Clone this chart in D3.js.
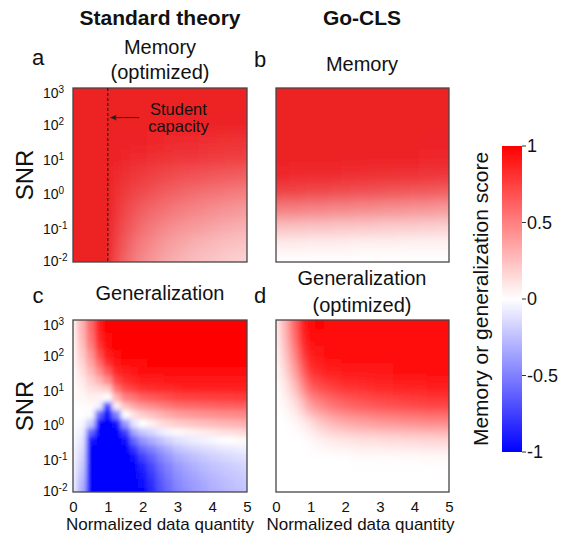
<!DOCTYPE html>
<html>
<head>
<meta charset="utf-8">
<script src="https://cdn.jsdelivr.net/npm/d3@7"></script>
<style>
  body { margin: 0; background: #fff; }
  svg text { font-family: "Liberation Sans", Arial, Helvetica, sans-serif; fill: #111; }
</style>
</head>
<body>
<script>
//// Data ///////////////////////////////////////////
// grids: normalized data quantity (columns) x log10 SNR (rows, top to bottom)
const DATA_QUANTITY = [0, 0.25, 0.5, 0.75, 1, 1.25, 1.5, 1.75, 2, 2.25, 2.5,
  2.75, 3, 3.25, 3.5, 3.75, 4, 4.25, 4.5, 4.75, 5]
const LOG_SNR = [3, 2.5, 2, 1.5, 1, 0.5, 0, -0.5, -1, -1.5, -2]
const LOG_SNR_FINE = [3, 2.75, 2.5, 2.25, 2, 1.75, 1.5, 1.25, 1, 0.75, 0.5,
  0.25, 0, -0.25, -0.5, -0.75, -1, -1.25, -1.5, -1.75, -2]

const X_TICKS = [0, 1, 2, 3, 4, 5]
const Y_TICK_EXPONENTS = [3, 2, 1, 0, -1, -2]
const COLORBAR_TICKS = [1, 0.5, 0, -0.5, -1]
const STUDENT_CAPACITY = 1

// a: standard theory, memory (optimized) -- rows of LOG_SNR
const memoryStandard = [
  [1,1,1,1,1,1,1,1,1,1,1,1,1,1,1,1,1,1,1,1,1],
  [1,1,1,1,1,1,1,1,1,1,1,1,1,1,1,1,1,1,1,1,1],
  [1,1,1,1,1,1,1,1,1,1,1,1,1,.99,.99,.99,.99,.98,.98,.98,.98],
  [1,1,1,1,1,.99,.99,.98,.98,.97,.97,.96,.96,.95,.95,.94,.94,.93,.93,.92,.92],
  [1,1,1,1,1,.98,.97,.96,.95,.94,.93,.92,.91,.9,.9,.89,.88,.88,.87,.87,.86],
  [1,1,1,1,1,.96,.93,.9,.88,.86,.84,.82,.8,.79,.78,.77,.76,.75,.74,.73,.72],
  [1,1,1,1,1,.93,.88,.84,.81,.78,.75,.72,.7,.68,.66,.64,.63,.62,.6,.59,.58],
  [1,1,1,1,1,.9,.83,.77,.72,.68,.65,.62,.59,.57,.55,.53,.51,.49,.48,.46,.45],
  [1,1,1,1,1,.87,.78,.71,.65,.6,.56,.52,.49,.47,.45,.43,.41,.39,.37,.36,.35],
  [1,1,1,1,1,.84,.73,.64,.58,.53,.48,.44,.41,.38,.35,.33,.31,.29,.28,.27,.26],
  [1,1,1,1,1,.8,.68,.6,.53,.47,.42,.38,.35,.32,.3,.28,.26,.24,.22,.21,.2]
]

// b: Go-CLS, memory -- rows of LOG_SNR
const memoryGoCLS = [
  [1,1,1,1,1,1,1,1,1,1,1,1,1,1,1,1,1,1,1,1,1],
  [1,1,1,1,1,1,1,1,1,1,1,1,1,1,1,1,1,1,1,1,1],
  [1,1,1,1,1,1,1,1,1,1,1,1,1,1,1,1,1,1,1,1,1],
  [1,1,1,1,1,1,1,1,1,1,1,1,1,1,1,1,1,.99,.99,.99,.99],
  [1,1,1,1,1,1,1,.99,.99,.99,.99,.99,.98,.98,.98,.98,.98,.97,.97,.97,.97],
  [.97,.97,.96,.96,.96,.95,.95,.95,.94,.94,.94,.93,.93,.93,.92,.92,.92,.91,.91,.9,.9],
  [.85,.84,.84,.83,.82,.82,.81,.8,.8,.79,.78,.78,.77,.76,.76,.75,.74,.74,.73,.72,.72],
  [.58,.57,.57,.56,.55,.55,.54,.53,.53,.52,.51,.51,.5,.49,.49,.48,.47,.47,.46,.45,.45],
  [.28,.28,.27,.27,.26,.26,.26,.25,.25,.24,.24,.24,.23,.23,.22,.22,.22,.21,.21,.2,.2],
  [.08,.08,.08,.08,.07,.07,.07,.07,.07,.06,.06,.06,.06,.06,.06,.05,.05,.05,.05,.05,.05],
  [0,0,0,0,0,0,0,0,0,0,0,0,0,0,0,0,0,0,0,0,0]
]

// c: standard theory, generalization -- one column per DATA_QUANTITY, over LOG_SNR_FINE
const generalizationStandardCols = [
  [.05,.05,.04,.04,.03,.03,.02,.02,.01,.01,0,0,0,-.01,-.02,-.03,-.04,-.05,-.06,-.07,-.08],
  [.3,.29,.27,.24,.2,.16,.12,.08,.05,.03,.01,0,-.03,-.06,-.1,-.13,-.16,-.2,-.24,-.28,-.32],
  [.6,.58,.55,.5,.42,.35,.27,.19,.12,.06,.02,-.02,-.2,-.6,-.92,-1,-1,-1,-1,-1,-1],
  [.9,.88,.85,.79,.7,.58,.45,.3,.15,.05,-.05,-.6,-1,-1,-1,-1,-1,-1,-1,-1,-1],
  [1,1,.97,.94,.9,.8,.65,.45,.2,0,-.8,-1,-1,-1,-1,-1,-1,-1,-1,-1,-1],
  [1,1,1,.99,.97,.93,.85,.72,.55,.3,.05,-.5,-.95,-1,-1,-1,-1,-1,-1,-1,-1],
  [1,1,1,1,.98,.95,.9,.82,.7,.5,.25,0,-.4,-.75,-.95,-1,-1,-1,-1,-1,-1],
  [1,1,1,1,.98,.96,.92,.85,.75,.55,.35,.12,-.1,-.35,-.6,-.8,-.95,-1,-1,-1,-1],
  [1,1,1,1,.99,.97,.94,.88,.8,.62,.42,.2,0,-.22,-.42,-.6,-.75,-.86,-.93,-.97,-1],
  [1,1,1,1,1,.98,.95,.89,.82,.65,.46,.25,.06,-.15,-.33,-.5,-.62,-.72,-.78,-.82,-.85],
  [1,1,1,1,1,.98,.95,.9,.83,.68,.5,.3,.12,-.08,-.25,-.4,-.5,-.58,-.63,-.67,-.7],
  [1,1,1,1,1,.98,.96,.91,.84,.7,.53,.34,.16,-.03,-.18,-.32,-.41,-.49,-.53,-.57,-.6],
  [1,1,1,1,1,.98,.96,.92,.85,.73,.57,.38,.2,.02,-.12,-.24,-.33,-.4,-.44,-.47,-.5],
  [1,1,1,1,1,.98,.96,.92,.86,.74,.58,.4,.22,.04,-.1,-.2,-.29,-.35,-.39,-.42,-.45],
  [1,1,1,1,1,.98,.96,.92,.86,.74,.59,.41,.24,.06,-.07,-.17,-.25,-.31,-.35,-.38,-.4],
  [1,1,1,1,1,.98,.96,.92,.86,.75,.6,.43,.26,.08,-.05,-.14,-.22,-.27,-.31,-.34,-.36],
  [1,1,1,1,1,.98,.96,.92,.86,.75,.61,.44,.27,.1,-.03,-.12,-.19,-.24,-.28,-.3,-.32],
  [1,1,1,1,1,.98,.96,.92,.87,.76,.62,.45,.29,.12,-.01,-.1,-.17,-.22,-.25,-.28,-.3],
  [1,1,1,1,1,.98,.96,.92,.87,.76,.62,.46,.3,.13,0,-.09,-.15,-.2,-.23,-.25,-.27],
  [1,1,1,1,1,.98,.96,.92,.87,.77,.63,.47,.31,.15,.02,-.07,-.13,-.18,-.21,-.23,-.25],
  [1,1,1,1,1,.98,.96,.92,.87,.77,.63,.48,.32,.16,.03,-.06,-.12,-.16,-.19,-.21,-.23]
]

// d: Go-CLS, generalization (optimized) -- rows of LOG_SNR
const generalizationGoCLS = [
  [.08,.3,.6,.9,.97,.98,.97,.96,.96,.96,.95,.95,.95,.95,.95,.95,.95,.95,.95,.95,.95],
  [.06,.27,.55,.85,.95,.97,.97,.96,.96,.96,.95,.95,.95,.95,.95,.95,.95,.95,.95,.95,.95],
  [.04,.22,.45,.75,.9,.93,.94,.95,.95,.95,.95,.95,.95,.95,.95,.95,.95,.95,.95,.95,.95],
  [.02,.15,.35,.6,.8,.85,.88,.9,.92,.92,.92,.93,.93,.93,.94,.94,.94,.94,.94,.94,.94],
  [.01,.08,.22,.42,.62,.7,.74,.77,.8,.81,.82,.84,.85,.85,.86,.86,.87,.87,.88,.88,.88],
  [0,.03,.1,.22,.38,.46,.52,.56,.6,.62,.64,.66,.68,.69,.7,.71,.72,.73,.74,.74,.75],
  [0,0,.02,.06,.12,.2,.26,.3,.33,.35,.37,.38,.4,.41,.42,.43,.44,.45,.46,.46,.47],
  [0,0,0,0,.02,.05,.07,.09,.1,.11,.12,.12,.13,.14,.14,.15,.15,.16,.16,.17,.17],
  [0,0,0,0,0,0,0,0,0,.01,.01,.01,.01,.01,.01,.01,.01,.02,.02,.02,.02],
  [0,0,0,0,0,0,0,0,0,0,0,0,0,0,0,0,0,0,0,0,0],
  [0,0,0,0,0,0,0,0,0,0,0,0,0,0,0,0,0,0,0,0,0]
]

//// Layout ///////////////////////////////////////////
const WIDTH = 561
const HEIGHT = 533
const FRAME = "#454545"

const memColor = v => d3.interpolateRgb("#ffffff", "#ed2024")(v)
const divColor = d3.scaleLinear().domain([-1, 0, 1]).range(["#0000ff", "#ffffff", "#ff0000"])

const panels = [
  { id: "a", left: 73, top: 88, w: 174, h: 174, rows: LOG_SNR, grid: memoryStandard,
    color: memColor, blur: "3.5 6.5", xAxis: false },
  { id: "b", left: 276, top: 88, w: 173, h: 174, rows: LOG_SNR, grid: memoryGoCLS,
    color: memColor, blur: "3.5 6.5", xAxis: false },
  { id: "c", left: 73, top: 320, w: 174, h: 172, rows: LOG_SNR_FINE,
    grid: d3.transpose(generalizationStandardCols), color: divColor, blur: "2.6 2.6", xAxis: true },
  { id: "d", left: 276, top: 320, w: 173, h: 172, rows: LOG_SNR, grid: generalizationGoCLS,
    color: divColor, blur: "3.5 6.5", xAxis: true }
]

const svg = d3.select("body").append("svg")
  .attr("width", WIDTH)
  .attr("height", HEIGHT)

const defs = svg.append("defs")

defs.append("marker")
  .attr("id", "arrow")
  .attr("viewBox", "0 0 10 10")
  .attr("refX", 9).attr("refY", 5)
  .attr("markerUnits", "userSpaceOnUse")
  .attr("markerWidth", 9).attr("markerHeight", 7)
  .attr("orient", "auto")
  .append("path")
  .attr("d", "M0,1 L10,5 L0,9 L2.5,5 Z")
  .attr("fill", "#222")

function drawPanel(p) {
  const x = d3.scaleLinear().domain([0, 5]).range([p.left, p.left + p.w])
  const y = d3.scaleLog().domain([1e-2, 1e3]).range([p.top + p.h, p.top])
  const PAD = 20
  const nx = DATA_QUANTITY.length
  const ny = p.rows.length

  const xEdge = i => i === 0 ? x(DATA_QUANTITY[0]) - PAD
    : i === nx ? x(DATA_QUANTITY[nx - 1]) + PAD
    : (x(DATA_QUANTITY[i - 1]) + x(DATA_QUANTITY[i])) / 2
  const yEdge = j => j === 0 ? y(10 ** p.rows[0]) - PAD
    : j === ny ? y(10 ** p.rows[ny - 1]) + PAD
    : y(10 ** ((p.rows[j - 1] + p.rows[j]) / 2))

  const cells = []
  p.grid.forEach((row, j) => row.forEach((v, i) => cells.push({ i, j, v })))

  defs.append("filter")
    .attr("id", "smooth-" + p.id)
    .attr("filterUnits", "userSpaceOnUse")
    .attr("x", p.left - 30).attr("y", p.top - 30)
    .attr("width", p.w + 60).attr("height", p.h + 60)
    .append("feGaussianBlur")
    .attr("stdDeviation", p.blur)

  defs.append("clipPath").attr("id", "clip-" + p.id)
    .append("rect")
    .attr("x", p.left).attr("y", p.top).attr("width", p.w).attr("height", p.h)

  svg.append("g")
    .attr("clip-path", `url(#clip-${p.id})`)
    .append("g")
    .attr("filter", `url(#smooth-${p.id})`)
    .selectAll("rect")
    .data(cells)
    .join("rect")
    .attr("x", d => xEdge(d.i))
    .attr("y", d => yEdge(d.j))
    .attr("width", d => xEdge(d.i + 1) - xEdge(d.i) + 0.5)
    .attr("height", d => yEdge(d.j + 1) - yEdge(d.j) + 0.5)
    .attr("fill", d => p.color(d.v))
    .attr("shape-rendering", "crispEdges")

  // frame
  svg.append("rect")
    .attr("x", p.left).attr("y", p.top).attr("width", p.w).attr("height", p.h)
    .attr("fill", "none").attr("stroke", FRAME).attr("stroke-width", 1.3)

  // y tick labels (only the left column)
  if (p.left < 100) {
    const yt = svg.append("g").selectAll("text")
      .data(Y_TICK_EXPONENTS)
      .join("text")
      .attr("x", 43)
      .attr("y", e => Math.min(Math.max(y(10 ** e) + 7, p.top + 9.5), p.top + p.h + 3.5))
      .attr("font-size", 14)
    yt.append("tspan").text("10")
    yt.append("tspan").attr("dy", -5).attr("font-size", 10)
      .text(e => e < 0 ? "-" + Math.abs(e) : e)

    svg.append("text")
      .attr("transform", `translate(33,${p.top + p.h / 2}) rotate(-90)`)
      .attr("text-anchor", "middle")
      .attr("font-size", 24)
      .text("SNR")
  }

  if (p.xAxis) {
    const ax = svg.append("g")
      .attr("transform", `translate(0,${p.top + p.h})`)
      .call(d3.axisBottom(x).tickValues(X_TICKS).tickFormat(d3.format("d")).tickSize(0).tickPadding(9))
    ax.select(".domain").remove()
    ax.selectAll("text").attr("font-size", 15).attr("font-family", null).attr("fill", "#111")

    svg.append("text")
      .attr("x", p.left + p.w / 2 + (p.id === "c" ? 0 : -2))
      .attr("y", 530)
      .attr("text-anchor", "middle")
      .attr("font-size", 17)
      .text("Normalized data quantity")
  }

  return { x, y }
}

const scales = panels.map(drawPanel)

//// Student capacity annotation in panel a ////
const sa = scales[0]
const pa = panels[0]
svg.append("line")
  .attr("x1", sa.x(STUDENT_CAPACITY)).attr("x2", sa.x(STUDENT_CAPACITY))
  .attr("y1", pa.top).attr("y2", pa.top + pa.h)
  .attr("stroke", "#1a1a1a").attr("stroke-width", 1.1)
  .attr("stroke-dasharray", "3,2")

svg.append("line")
  .attr("x1", sa.x(1.9)).attr("x2", sa.x(1.08))
  .attr("y1", sa.y(10 ** 2.15)).attr("y2", sa.y(10 ** 2.15))
  .attr("stroke", "#222").attr("stroke-width", 1)
  .attr("marker-end", "url(#arrow)")

svg.append("text")
  .attr("x", sa.x(3.03)).attr("y", sa.y(10 ** 2.22))
  .attr("text-anchor", "middle").attr("font-size", 16.5)
  .text("Student")
svg.append("text")
  .attr("x", sa.x(3.03)).attr("y", sa.y(10 ** 2.22) + 17)
  .attr("text-anchor", "middle").attr("font-size", 16.5)
  .text("capacity")

//// Titles ////
const titles = [
  { t: "Standard theory", x: 160, y: 25, size: 21, bold: true },
  { t: "Go-CLS", x: 362, y: 25, size: 21, bold: true },
  { t: "Memory", x: 160, y: 54, size: 20 },
  { t: "(optimized)", x: 160, y: 79, size: 20 },
  { t: "Memory", x: 362, y: 71, size: 20 },
  { t: "Generalization", x: 160, y: 300, size: 20 },
  { t: "Generalization", x: 362, y: 285, size: 20 },
  { t: "(optimized)", x: 362, y: 312, size: 20 },
  { t: "a", x: 38, y: 65, size: 22 },
  { t: "b", x: 260, y: 67, size: 22 },
  { t: "c", x: 38, y: 303, size: 22 },
  { t: "d", x: 260, y: 303, size: 22 }
]
svg.append("g").selectAll("text")
  .data(titles)
  .join("text")
  .attr("x", d => d.x).attr("y", d => d.y)
  .attr("text-anchor", "middle")
  .attr("font-size", d => d.size)
  .attr("font-weight", d => d.bold ? "bold" : null)
  .text(d => d.t)

//// Colorbar ////
const CB = { left: 502, top: 146, w: 20, h: 306 }
const cbScale = d3.scaleLinear().domain([-1, 1]).range([CB.top + CB.h, CB.top])
const grad = defs.append("linearGradient")
  .attr("id", "cbgrad")
  .attr("x1", 0).attr("y1", 1).attr("x2", 0).attr("y2", 0)
grad.selectAll("stop")
  .data(d3.range(-1, 1.001, 0.25))
  .join("stop")
  .attr("offset", v => (v + 1) / 2)
  .attr("stop-color", v => divColor(v))
svg.append("rect")
  .attr("x", CB.left).attr("y", CB.top).attr("width", CB.w).attr("height", CB.h)
  .attr("fill", "url(#cbgrad)")

const cbTicks = svg.append("g").selectAll("g")
  .data(COLORBAR_TICKS)
  .join("g")
  .attr("transform", v => `translate(${CB.left + CB.w},${cbScale(v)})`)
cbTicks.append("line").attr("x1", 0).attr("x2", 4).attr("stroke", "#333").attr("stroke-width", 1)
cbTicks.append("text")
  .attr("x", 5).attr("dy", "0.36em")
  .attr("font-size", 18)
  .text(v => v)

svg.append("text")
  .attr("transform", `translate(488,${CB.top + CB.h / 2}) rotate(-90)`)
  .attr("text-anchor", "middle")
  .attr("font-size", 21)
  .text("Memory or generalization score")
</script>
</body>
</html>
